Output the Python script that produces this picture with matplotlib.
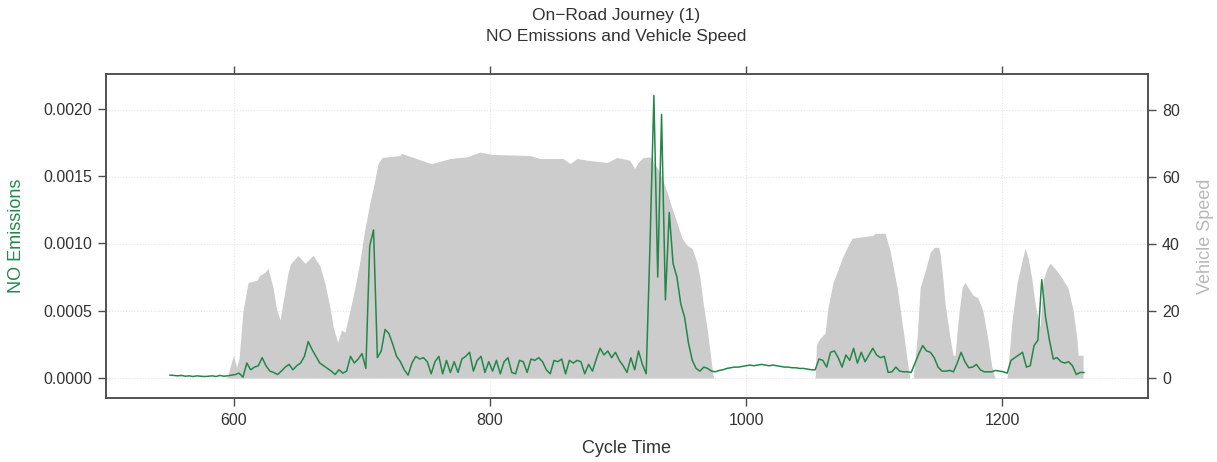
import numpy as np
import matplotlib
matplotlib.use("Agg")
import matplotlib.pyplot as plt
from matplotlib.ticker import FormatStrFormatter

plt.rcParams['font.family'] = ['Liberation Sans', 'DejaVu Sans']

# NO emissions sampled every 3 s of cycle time (values in units of 1e-4)
cycle_time = np.arange(550, 1265, 3)
no_e4 = [
    0.2, 0.18, 0.15, 0.18, 0.12, 0.15, 0.1, 0.15, 0.12, 0.1,
    0.12, 0.15, 0.1, 0.18, 0.12, 0.15, 0.2, 0.25, 0.35, 0.05,
    1.1, 0.6, 0.8, 0.9, 1.5, 0.9, 0.5, 0.4, 0.25, 0.5,
    0.8, 1.0, 0.6, 0.9, 1.1, 1.6, 2.7, 2.1, 1.6, 1.1,
    0.9, 0.7, 0.5, 0.25, 0.6, 0.35, 0.5, 1.6, 1.1, 1.4,
    1.8, 0.7, 9.8, 11.0, 1.5, 2.0, 3.6, 3.3, 2.5, 1.6,
    1.2, 0.6, 0.2, 1.1, 1.6, 1.4, 1.5, 1.2, 0.3, 1.2,
    1.6, 0.3, 1.3, 0.4, 1.2, 0.4, 1.4, 1.6, 1.9, 0.5,
    1.3, 1.6, 0.4, 1.2, 0.5, 1.3, 0.3, 1.2, 1.5, 0.4,
    0.3, 1.3, 1.2, 0.4, 1.4, 1.3, 1.5, 1.2, 0.6, 0.3,
    1.3, 1.2, 1.4, 0.3, 1.3, 1.1, 1.3, 1.2, 0.3, 1.0,
    0.5, 1.4, 2.2, 1.7, 2.0, 1.5, 1.9, 1.3, 0.9, 0.4,
    1.5, 0.6, 2.0, 1.0, 0.3, 10.0, 21.0, 7.5, 19.6, 5.8,
    12.3, 8.5, 7.5, 5.5, 4.5, 2.6, 1.3, 0.7, 0.5, 0.8,
    0.7, 0.5, 0.45, 0.55, 0.6, 0.7, 0.75, 0.8, 0.8, 0.85,
    0.9, 0.95, 0.9, 0.95, 1.0, 0.95, 0.9, 0.95, 0.9, 0.85,
    0.8, 0.8, 0.75, 0.75, 0.7, 0.7, 0.65, 0.6, 0.6, 1.4,
    1.3, 0.8, 1.9, 2.0, 1.5, 0.8, 1.7, 1.3, 2.2, 1.1,
    1.9, 1.2, 1.7, 2.2, 1.7, 1.5, 1.6, 0.4, 0.45, 0.8,
    0.5, 0.45, 0.45, 0.4, 1.1, 1.8, 2.4, 2.0, 1.9, 1.5,
    0.8, 0.5, 0.5, 0.55, 0.45, 1.1, 1.9, 1.2, 0.75, 0.8,
    1.0, 0.6, 0.45, 0.45, 0.45, 0.55, 0.5, 0.45, 0.35, 1.3,
    1.5, 1.7, 1.9, 0.8, 0.9, 2.4, 2.8, 7.3, 4.5, 2.8,
    1.4, 1.5, 1.2, 1.1, 1.2, 0.9, 0.25, 0.4, 0.4,
]
no_emissions = np.array(no_e4) * 1e-4

# Vehicle speed profile
speed_time = [
    594.5, 599.5, 602, 604, 607, 611, 618, 620, 624, 626.6,
    630.5, 633, 636, 638, 642, 644, 650, 655.5, 661.7, 667,
    671, 675, 677.5, 681, 684, 686.7, 690.6, 694.5, 698.4, 702,
    706, 710, 712.5, 715.6, 729.7, 731, 750.8, 754.7, 768.8, 782,
    792, 802, 831, 839, 857, 862.5, 868, 875.8, 891.4, 899,
    909, 913, 915.6, 919.5, 925, 932.8, 938.3, 942.2, 946, 950,
    953.9, 957.8, 961.7, 964, 966.4, 969.5, 971.9, 974.2, 975,
    1054, 1055, 1057.8, 1061.7, 1064, 1068, 1071, 1075, 1079, 1082.8,
    1099.2, 1100.8, 1108.6, 1112.5, 1118, 1122.7, 1126.6, 1128,
    1130.5, 1133.6, 1136, 1140, 1143.8, 1147, 1150.5, 1151.6, 1153.9, 1155.5,
    1159.4, 1161.7, 1163.3, 1165.6, 1168.8, 1171, 1173.4, 1177.3, 1181, 1185,
    1189, 1192, 1194.5,
    1204, 1207.8, 1211.7, 1215.6, 1218, 1220.3, 1223.4, 1225.8, 1228, 1229.7,
    1232, 1235, 1237.5, 1241.4, 1246.9, 1251.6, 1255.5, 1258.6, 1259.4, 1263.3,
]
speed = [
    0, 6.8, 3.3, 6, 20, 28.5, 29.2, 30.6, 31.5, 32.7,
    27, 21, 17.3, 22, 31, 34, 36.6, 34.2, 36.6, 33.6,
    28.3, 21, 15.2, 10.7, 14.3, 13.7, 20.2, 27, 35, 44,
    52, 59, 64, 65.8, 66.4, 67, 64.4, 64, 65.5, 66,
    67.4, 66.7, 66.4, 65.5, 65.5, 64, 65.5, 65, 64.3, 65.8,
    65, 62.5, 64.3, 65.8, 66, 61.3, 55.4, 50.6, 46.4, 41.7,
    39.6, 38.7, 34.5, 29.8, 22.6, 14.9, 7.7, 0.9, 0,
    0, 10, 11.9, 13.4, 21, 28.6, 31.5, 35.7, 39, 41.7,
    42.6, 43.2, 43.2, 38, 27, 14.3, 3.3, 0,
    0, 12, 27, 32, 37.5, 39, 39, 37, 29, 22,
    12, 6.8, 6.8, 17, 27, 28.6, 27, 24.7, 24, 20.2,
    11.3, 3.3, 0,
    0, 17.3, 28.3, 35, 38.7, 36, 29.2, 22.3, 18, 15.2,
    29.2, 32.7, 34.2, 32.7, 29.8, 26.8, 20.2, 11.3, 6.8, 6.8,
]

title_lines = ["On\u2212Road Journey (1)", "NO Emissions and Vehicle Speed"]
x_ticks = [600, 800, 1000, 1200]
no_ticks = [0.0, 0.0005, 0.0010, 0.0015, 0.0020]
speed_ticks = [0, 20, 40, 60, 80]

green = "#23874a"
fill_grey = "#cccccc"
axis_grey = "#4d4d4d"
text_col = "#333333"

fig = plt.figure(figsize=(12.17, 4.62), dpi=100, facecolor="white")
ax = fig.add_axes([0.0871, 0.1385, 0.8562, 0.7013])
ax2 = ax.twinx()

# speed area on the secondary axis, drawn beneath the emissions trace
ax2.fill_between(speed_time, 0, speed, color=fill_grey, linewidth=0, zorder=2)
ax2.set_ylim(-5.95, 90.7)
ax2.set_yticks(speed_ticks)
for v in speed_ticks:
    ax2.axhline(v, color="#e4e4e4", lw=0.8, ls=(0, (1, 1.5)), zorder=1)
for v in x_ticks:
    ax2.axvline(v, color="#e4e4e4", lw=0.8, ls=(0, (1, 1.5)), zorder=1)

ax.plot(cycle_time, no_emissions, color=green, lw=1.1, zorder=3)
ax.set_xlim(500, 1314)
ax.set_ylim(-0.00015, 0.00226)
ax.set_xticks(x_ticks)
ax.set_yticks(no_ticks)
ax.yaxis.set_major_formatter(FormatStrFormatter('%.4f'))

ax.set_zorder(ax2.get_zorder() + 1)
ax.patch.set_visible(False)

for a in (ax, ax2):
    for s in a.spines.values():
        s.set_color(axis_grey)
        s.set_linewidth(1.1)

ax.tick_params(axis='x', which='both', top=True, bottom=True, direction='out',
               length=6, width=1.0, color=axis_grey, labelsize=11.5,
               labelcolor=text_col, pad=5)
ax.tick_params(axis='y', left=True, right=False, direction='out', length=6,
               width=1.0, color=axis_grey, labelsize=11.5, labelcolor=text_col, pad=4)
ax2.tick_params(axis='y', right=True, direction='out', length=6, width=1.0,
                color=axis_grey, labelsize=11.5, labelcolor=text_col, pad=4)

ax.set_xlabel("Cycle Time", fontsize=13, color=text_col)
ax.xaxis.set_label_coords(0.5, -0.13)
ax.set_ylabel("NO Emissions", fontsize=13, color=green)
ax.yaxis.set_label_coords(-0.078, 0.5)
ax2.set_ylabel("Vehicle Speed", fontsize=13, color="#b8b8b8")
ax2.yaxis.set_label_coords(1.047, 0.5)

fig.text(0.506, 0.966, title_lines[0], ha='center', va='center', fontsize=12.5, color=text_col)
fig.text(0.506, 0.922, title_lines[1], ha='center', va='center', fontsize=12.5, color=text_col)

fig.savefig("out.png", dpi=100, facecolor="white")
